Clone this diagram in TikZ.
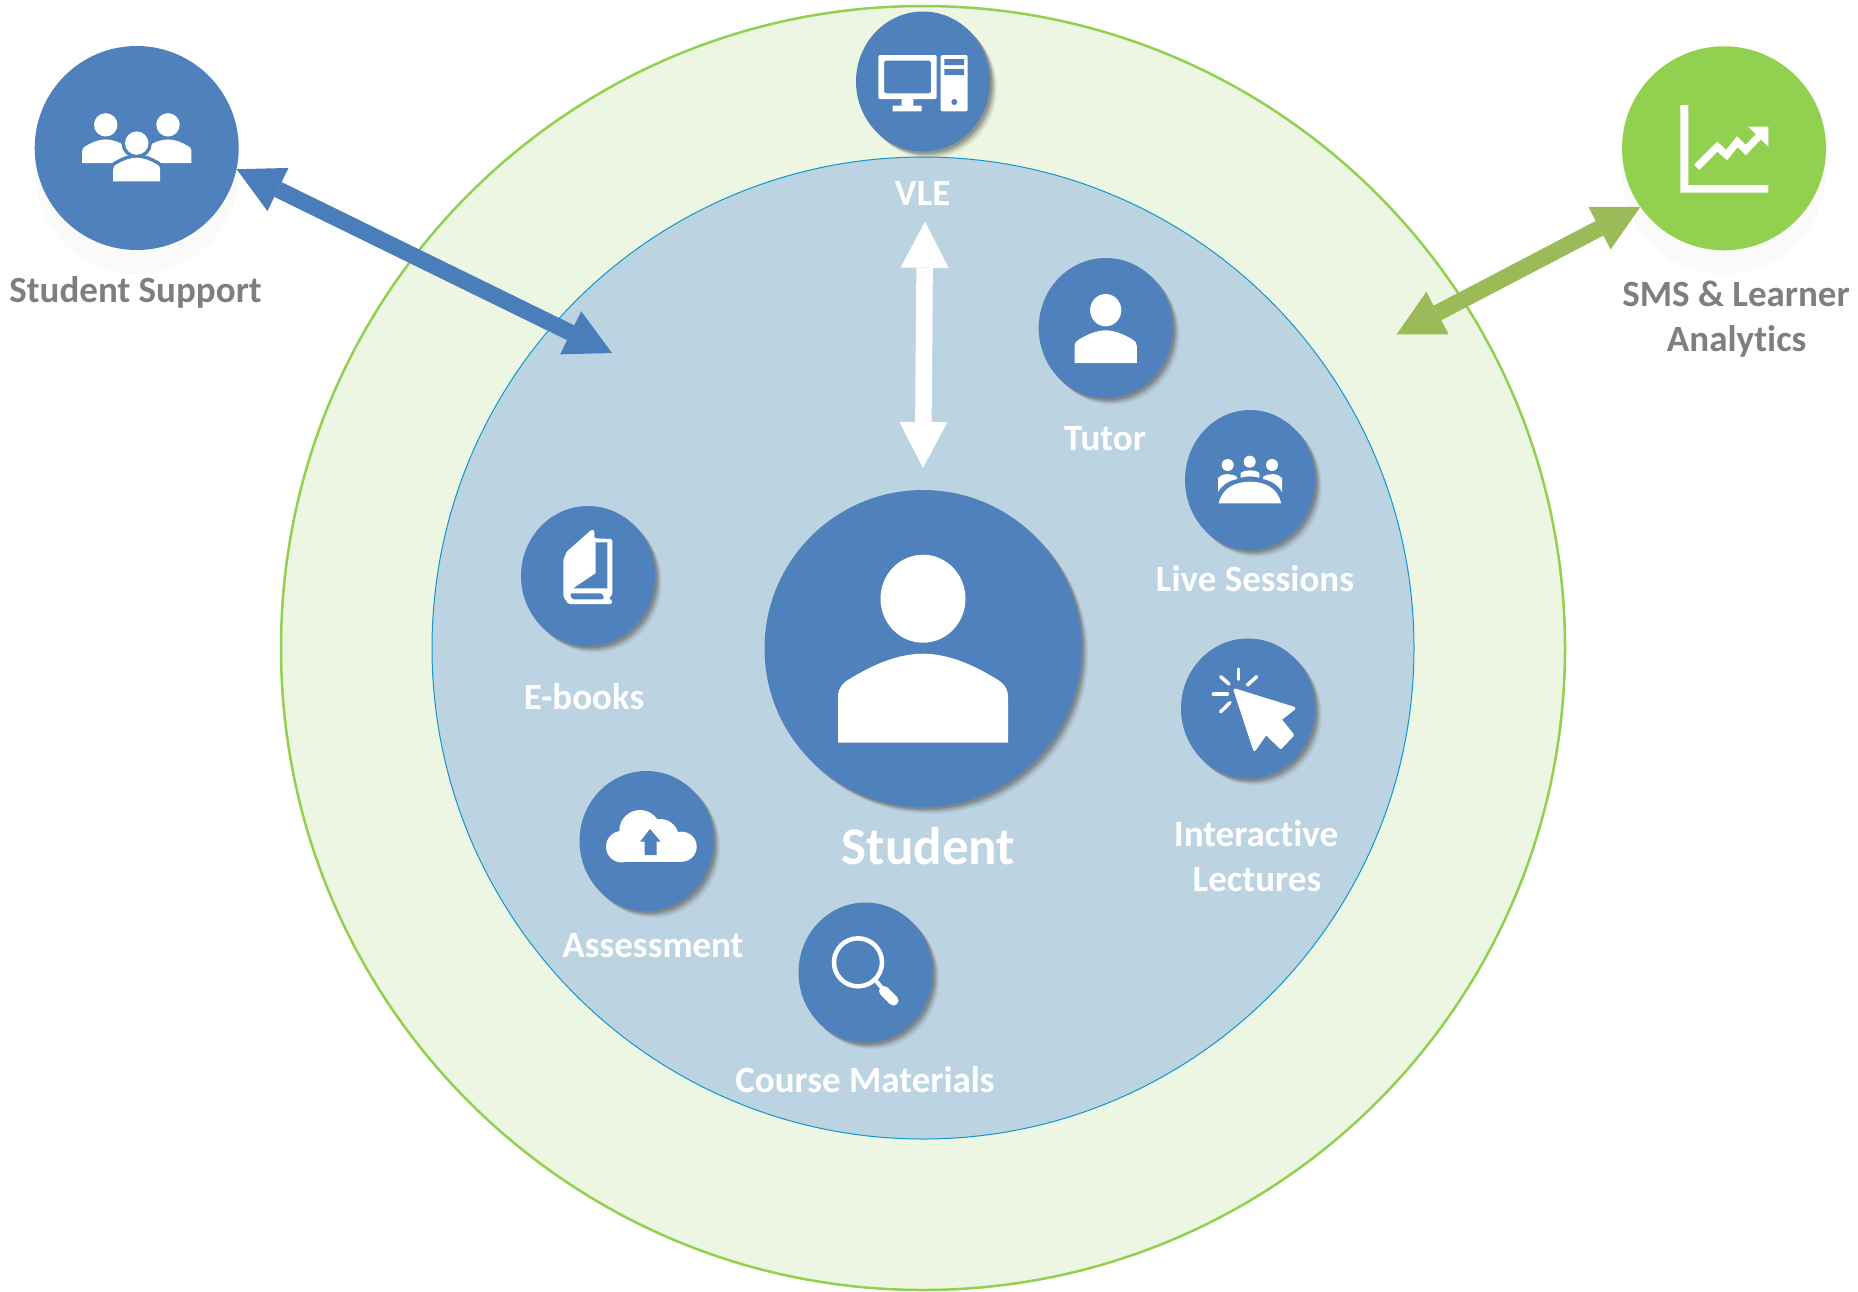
\documentclass[tikz,border=0pt]{standalone}
\usepackage{fontspec}
\setmainfont{Carlito}[Ligatures=NoCommon]
\usetikzlibrary{arrows.meta,shadows,shapes.geometric}

\definecolor{ringgreen}{HTML}{92D050}
\definecolor{ringfill}{HTML}{ECF6E2}
\definecolor{corefill}{HTML}{BCD3E2}
\definecolor{coreline}{HTML}{1098CC}
\definecolor{iconblue}{HTML}{4F81BD}
\definecolor{linkblue}{HTML}{4A7EBB}
\definecolor{linkgreen}{HTML}{9BBB59}
\definecolor{labelgrey}{HTML}{7F7F7F}
\definecolor{faintgrey}{HTML}{FAFAF8}

\tikzset{
  softshadow/.style={
    general shadow={shadow xshift=7pt,shadow yshift=-7pt,fill=black!70,opacity=.05},
    general shadow={shadow xshift=6pt,shadow yshift=-6pt,fill=black!70,opacity=.08},
    general shadow={shadow xshift=5pt,shadow yshift=-5pt,fill=black!70,opacity=.10},
    general shadow={shadow xshift=4pt,shadow yshift=-4pt,fill=black!70,opacity=.14},
    general shadow={shadow xshift=3pt,shadow yshift=-3pt,fill=black!70,opacity=.18},
    general shadow={shadow xshift=2pt,shadow yshift=-2pt,fill=black!70,opacity=.20}},
  blob/.style={ellipse,fill=iconblue,inner sep=0pt,minimum width=134pt,minimum height=140pt,softshadow},
  sidecircle/.style={circle,inner sep=0pt,minimum size=204pt,general shadow={shadow yshift=-24pt,fill=faintgrey}},
  whitelabel/.style={anchor=base,text=white,font=\bfseries\fontsize{37}{40}\selectfont},
  greylabel/.style={anchor=base,text=labelgrey,font=\bfseries\fontsize{37}{40}\selectfont},
  biglink/.style={line width=16.5pt,{Triangle[length=46pt,width=48pt,line width=0pt]}-{Triangle[length=46pt,width=48pt,line width=0pt]}},
  personicon/.pic={
    \path[fill=white,pic actions] (0,-144) ellipse [x radius=42.5,y radius=44];
    \path[fill=white,pic actions] (-85,0) -- (-85,-46) .. controls (-85,-55) and (-80,-60) .. (-73,-64)
      .. controls (-50,-78) and (-25,-89) .. (0,-89) .. controls (25,-89) and (50,-78) .. (73,-64)
      .. controls (80,-60) and (85,-55) .. (85,-46) -- (85,0) -- cycle;
  }
}

\begin{document}
\begin{tikzpicture}[x=1pt,y=-1pt]
  \useasboundingbox (0,0) rectangle (1858,1291);

  % rings
  \node (outer)[circle,draw=ringgreen,line width=2.5pt,fill=ringfill,inner sep=0pt,minimum size=1284pt] at (923,648) {};
  \node (inner)[circle,draw=coreline,line width=1pt,fill=corefill,inner sep=0pt,minimum size=982pt] at (923,648) {};

  % main circles
  \node (support)[sidecircle,fill=iconblue] at (136.7,148) {};
  \node (sms)[sidecircle,fill=ringgreen] at (1724,148.3) {};
  \node (vle)[blob] at (923,81.5) {};
  \node (tutor)[blob] at (1105.7,328) {};
  \node (live)[blob,minimum width=130pt] at (1250,480) {};
  \node (lectures)[blob] at (1248,708.5) {};
  \node (ebooks)[blob] at (588,576) {};
  \node (assess)[blob] at (646.5,841) {};
  \node (course)[blob] at (865.5,972.5) {};
  \node (student)[circle,fill=iconblue,inner sep=0pt,minimum size=317pt,softshadow] at (923,648.5) {};

  % labels
  \node (supportlabel)[greylabel] at (135.5,302.5) {Student Support};
  \node (smslabel)[greylabel] at (1736,306) {SMS \& Learner};
  \node (smslabelb)[greylabel] at (1736.7,351) {Analytics};
  \node (vlelabel)[whitelabel] at (922.7,205) {VLE};
  \node (tutorlabel)[whitelabel] at (1105,450) {Tutor};
  \node (livelabel)[whitelabel] at (1255,591) {Live Sessions};
  \node (lectureslabel)[whitelabel] at (1256,846) {Interactive};
  \node (lectureslabelb)[whitelabel] at (1257,891) {Lectures};
  \node (ebookslabel)[whitelabel] at (584,709) {E-books};
  \node (assesslabel)[whitelabel] at (653,957) {Assessment};
  \node (courselabel)[whitelabel] at (865,1092.7) {Course Materials};
  \node (studentlabel)[whitelabel,font=\bfseries\fontsize{53}{56}\selectfont] at (928.5,864) {Student};

  % arrows
  \coordinate (blueend) at (612,353);
  \coordinate (greenend) at (1396.7,334.3);
  \coordinate (whitetop) at (925,221.7);
  \coordinate (whiteend) at (923,468);
  \draw[biglink,linkblue] (support.-12.5) -- (blueend);
  \draw[biglink,linkgreen] (sms.215.8) -- (greenend);
  \draw[biglink,white] (whitetop) -- (whiteend);

  % student and tutor
  \pic[scale=1] at (923,742.7) {personicon};
  \pic[scale=.367] at (1105.7,363) {personicon};

  % support group
  \pic[xscale=.276,yscale=.265] at (105.7,163) {personicon};
  \pic[xscale=.276,yscale=.265] at (168,163) {personicon};
  \pic[xscale=.276,yscale=.265,fill=iconblue,draw=iconblue,line width=7pt] at (136.7,181.3) {personicon};
  \pic[xscale=.276,yscale=.265] at (136.7,181.3) {personicon};

  % computer
  \fill[white,even odd rule,rounded corners=2pt] (878.3,55) rectangle (936.7,99) (884,60.7) rectangle (931,93.3);
  \fill[white] (901.7,99) rectangle (913.3,106) (892.7,105.7) rectangle (921.7,111.3);
  \fill[white,rounded corners=2pt] (940.7,55) rectangle (967.7,111.3);
  \fill[iconblue] (944.3,59) rectangle (964,65) (944.3,69) rectangle (964,75) (954.3,102) circle [radius=3];

  % chart
  \fill[white] (1680.3,105) -- (1688.3,105) -- (1688.3,185) -- (1768.3,185) -- (1768.3,192.7) -- (1680.3,192.7) -- cycle;
  \draw[white,line width=7.3pt,miter limit=4] (1696.7,167.3) -- (1717.3,146.7) -- (1726.7,155) -- (1737.3,141.7) -- (1745.7,150) -- (1761.7,133.3);
  \fill[white] (1748.3,126.7) -- (1768.3,126.7) -- (1768.3,146.7) -- cycle;

  % live sessions
  \foreach \hx/\hy in {1227.7/465,1249.7/461.7,1272/465}
    \fill[white] (\hx,\hy) circle [radius=6];
  \fill[white] (1218.7,503.3) .. controls (1222,488) and (1235,481.7) .. (1250,481.7) .. controls (1265,481.7) and (1278,488) .. (1281,503.3) -- cycle;
  \fill[white] (1218,492) -- (1218,478) .. controls (1222,473) and (1232,473) .. (1237,477) -- (1237,479) .. controls (1228,481) and (1222,485) .. cycle;
  \fill[white] (1282,492) -- (1282,478) .. controls (1278,473) and (1268,473) .. (1263,477) -- (1263,479) .. controls (1272,481) and (1278,485) .. cycle;
  \fill[white] (1240.7,477.7) -- (1240.7,473) .. controls (1244,469.5) and (1256,469.5) .. (1259.3,473) -- (1259.3,477.7) .. controls (1253,476) and (1247,476) .. cycle;

  % cursor
  \filldraw[white,line width=3pt,line join=round] (1235,690) -- (1294,708.3) -- (1280,719.5) -- (1292.5,735) -- (1280.7,747.5) -- (1266,733) -- (1254.5,749.5) -- cycle;
  \foreach \ax/\ay/\bx/\by in {1238.7/669/1238.7/679.3,1220.7/676.7/1229/684,1256.7/676.7/1247.3/685,1213.3/694/1227.3/694,1220.7/711.7/1230/702.7}
    \draw[white,line width=3.5pt,line cap=round] (\ax,\ay) -- (\bx,\by);

  % book
  \fill[white,rounded corners=1.5pt] (594.3,530) -- (591.7,529.5) -- (566.7,551.7) -- (563.3,560) -- (563.3,596.7) -- (568.3,604) -- (611.7,604) -- (612.7,600.7) -- (608.3,598.3) -- (612.3,595) -- (612.3,539) -- (594.3,538.3) -- cycle;
  \fill[iconblue] (595.7,542.3) -- (607.3,542.3) -- (607.3,588.3) -- (573.3,588.3) -- (595.7,573.3) -- cycle;
  \fill[iconblue,rounded corners=2pt] (570,593.3) -- (602.7,593.3) -- (604,599.3) -- (571.7,599.3) -- cycle;

  % cloud
  \fill[white] (621.7,846.7) circle [radius=15.7] (640,830.7) circle [radius=20.7] (660,838) circle [radius=19] (681.7,846.7) circle [radius=15];
  \fill[white] (621.7,835) rectangle (681.7,861.7);
  \fill[iconblue] (650,829) -- (660.7,841.7) -- (656.7,841.7) -- (656.7,855) -- (644.7,855) -- (644.7,841.7) -- (640,841.7) -- cycle;

  % magnifier
  \draw[white,line width=4.5pt] (858,962.3) circle [radius=24];
  \draw[white,line width=4pt] (875,979.5) -- (884,990.5);
  \draw[white,line width=10pt,line cap=round] (884,991) -- (893.5,1000.5);
\end{tikzpicture}
\end{document}
